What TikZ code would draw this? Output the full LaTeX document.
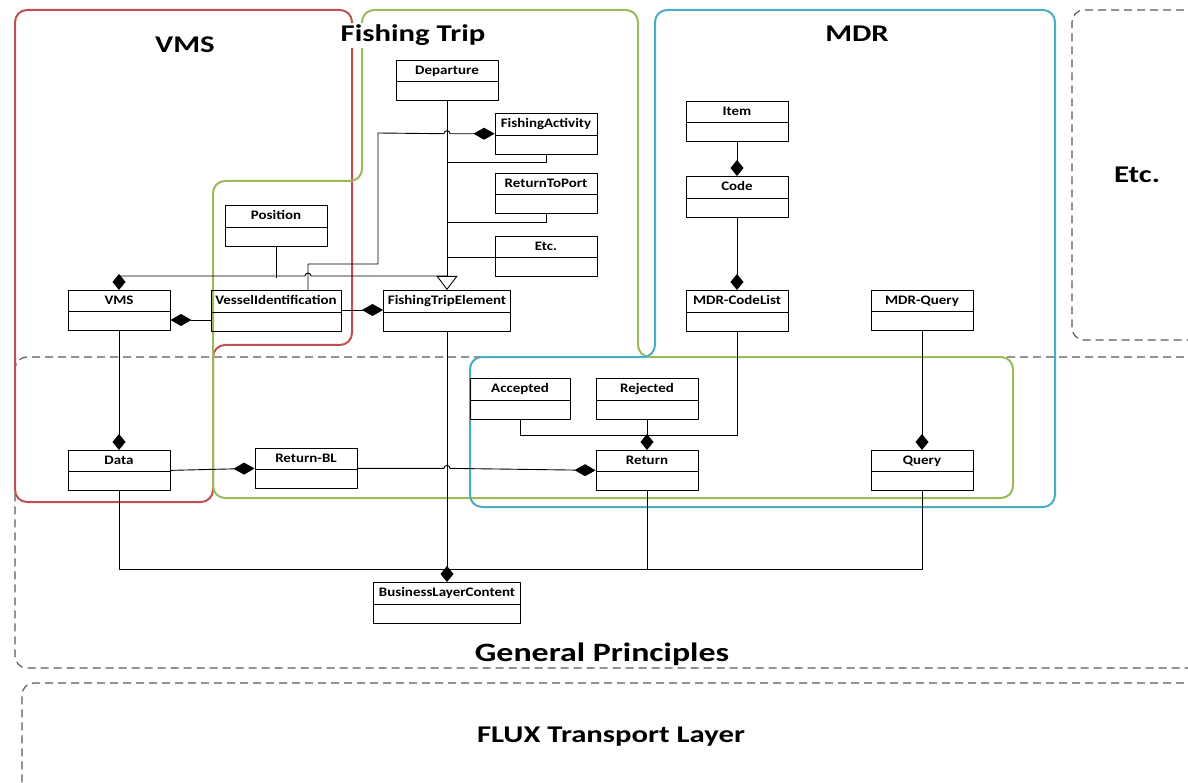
\documentclass[tikz,border=0pt]{standalone}
\usepackage{fontspec}
\setsansfont{Carlito}[FakeStretch=1.15]
\newfontfamily\hdrfont{Carlito}[FakeStretch=1.28]
\usepackage{tikz}
\usetikzlibrary{shapes.multipart}
\usetikzlibrary{arrows.meta}
\definecolor{zonered}{HTML}{C0504D}
\definecolor{zonegreen}{HTML}{9BBB59}
\definecolor{zoneblue}{HTML}{4BACC6}
\definecolor{layergray}{HTML}{595959}

\begin{document}
\begin{tikzpicture}[x=1pt,y=-1pt,line join=round,
    cls/.style={draw,line width=0.9pt,rectangle split,rectangle split parts=2,anchor=north,
      minimum width=102pt,inner xsep=2pt,inner ysep=4.7pt,
      rectangle split empty part height=8.6pt,rectangle split empty part depth=0pt,
      font=\sffamily\bfseries\fontsize{13}{15}\selectfont,execute at begin node={\vphantom{Ag}}},
    hdr/.style={anchor=base,fill=white,inner sep=2pt,font=\hdrfont\bfseries\fontsize{24}{28}\selectfont},
    link/.style={line width=0.9pt},
    comp/.style={link,-{Diamond[length=21pt,width=12pt]}},
    vcomp/.style={link,-{Diamond[length=16pt,width=13pt]}},
    gen/.style={link,-{Triangle[open,length=14pt,width=21pt]}},
    zone/.style={line width=2pt,rounded corners=12pt},
    layer/.style={draw=layergray,line width=1.2pt,dash pattern=on 8pt off 5pt,rounded corners=12pt}]
    \useasboundingbox (0,0) rectangle (1188,783);
    \clip (0,0) rectangle (1188,783);

    % layers
    \draw[layer] (1210,357) -- (15,357) -- (15,668) -- (1210,668);
    \draw[layer] (1210,683) -- (22,683) -- (22,800);
    \draw[layer] (1210,10) -- (1072,10) -- (1072,340) -- (1210,340);
    \node[hdr,font=\hdrfont\bfseries\fontsize{26.5}{30}\selectfont] (gp) at (602,661) {General Principles};
    \node[hdr] (flux) at (611,742) {FLUX Transport Layer};
    \node[hdr] (etc) at (1137,183) {Etc.};

    % domains
    \draw[zone,zonered] (15,10) -- (352,10) -- (352,345) -- (213,345) -- (213,502) -- (15,502) -- cycle;
    \draw[zone,zonegreen] (362,10) -- (638,10) -- (638,357) -- (1013,357) -- (1013,498) -- (213,498) -- (213,181) -- (362,181) -- cycle;
    \draw[zone,zoneblue] (655,10) -- (1055,10) -- (1055,507) -- (470,507) -- (470,357) -- (655,357) -- cycle;
    \node[hdr] (vmshdr) at (185,53) {VMS};
    \node[hdr] (trip) at (413,42) {Fishing Trip};
    \node[hdr] (mdr) at (857,42) {MDR};

    % classes
    \node[cls] (dep) at (447,60) {Departure};
    \node[cls] (fa) at (546,113) {FishingActivity};
    \node[cls] (rtp) at (546,173) {ReturnToPort};
    \node[cls] (etcb) at (546,236) {Etc.};
    \node[cls] (pos) at (276,205) {Position};
    \node[cls] (vms) at (119,290) {VMS};
    \node[cls,minimum width=130pt] (vi) at (276,290) {VesselIdentification};
    \node[cls,minimum width=127pt] (fte) at (447,290) {FishingTripElement};
    \node[cls] (item) at (737,101) {Item};
    \node[cls] (code) at (737,176) {Code};
    \node[cls] (mcl) at (737,290) {MDR-CodeList};
    \node[cls] (mq) at (922,290) {MDR-Query};
    \node[cls,minimum width=100pt] (acc) at (520,378) {Accepted};
    \node[cls] (rej) at (647,378) {Rejected};
    \node[cls] (data) at (119,450) {Data};
    \node[cls] (rbl) at (306,448) {Return-BL};
    \node[cls] (ret) at (647,450) {Return};
    \node[cls] (qry) at (922,450) {Query};
    \node[cls,minimum width=147pt] (blc) at (447,582) {BusinessLayerContent};

    % fishing trip
    \draw[gen] (dep.south) -- (fte.north);
    \draw[link] (fa.south) -- ++(0,8) coordinate (faj) -- (faj -| dep.south);
    \draw[link] (rtp.south) -- ++(0,9) coordinate (rtpj) -- (rtpj -| dep.south);
    \draw[link] ([yshift=-21pt]etcb.north west) -- ([yshift=-21pt]etcb.north west -| dep.south);
    \draw[comp] ([xshift=32pt]vi.north) -- ++(0,-26) -- ++(70,0) -- ++(0,-131)
      -- ([xshift=-3pt]dep.south |- fa.west) arc[start angle=180,end angle=0,radius=3pt] -- (fa.west);
    \draw[comp] ([yshift=-20pt]vi.north east) -- ([yshift=-20pt]fte.north west);

    % vms
    \draw[link] (pos.south) -- ++(0,32);
    \draw[vcomp] ([yshift=14pt]fte.north) -- ([xshift=35pt,yshift=14pt]vi.north)
      arc[start angle=0,end angle=180,radius=3pt] -| (vms.north);
    \draw[comp] ([yshift=-30pt]vi.north west) -- ([yshift=-30pt]vms.north east);
    \draw[vcomp] (vms.south) -- (data.north);
    \draw[comp] (data.east) -- (rbl.west);
    \draw[comp] (rbl.east) -- ([xshift=-3pt]fte.south |- rbl.east)
      arc[start angle=180,end angle=0,radius=3pt] -- (ret.west);

    % mdr
    \draw[vcomp] (item.south) -- (code.north);
    \draw[vcomp] (code.south) -- (mcl.north);
    \draw[link] (mcl.south) |- ([yshift=15pt]ret.north);
    \draw[link] (acc.south) |- ([yshift=15pt]ret.north);
    \draw[vcomp] (rej.south) -- (ret.north);
    \draw[vcomp] (mq.south) -- (qry.north);

    % business layer
    \draw[vcomp] (fte.south) -- (blc.north);
    \draw[link] (data.south) -- ++(0,79) -| (qry.south);
    \draw[link] (ret.south) -- ++(0,79);
\end{tikzpicture}
\end{document}
